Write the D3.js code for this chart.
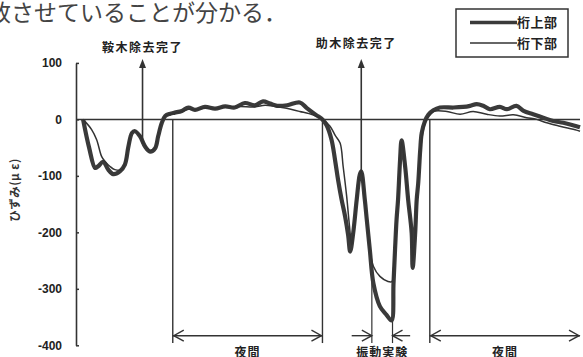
<!DOCTYPE html>
<html>
<head>
<meta charset="utf-8">
<script src="https://cdn.jsdelivr.net/npm/d3@7"></script>
<style>
  body { margin: 0; background: #fff; }
  svg { display: block; font-family: "Noto Sans CJK JP", "Noto Sans", sans-serif; }
</style>
</head>
<body>
<div id="chart"></div>
<script>
// strain record: time (0-100, arbitrary) vs strain (με)
const upperTime = [1.4, 2.6, 3.8, 4.4, 5.4, 6.4, 7.4, 8.7, 9.7, 10.4, 11.1, 11.7, 12.7, 13.7, 14.7, 15.7, 16.3, 17.0, 17.7, 18.7,
  19.6, 21.0, 22.3, 23.6, 25.6, 27.6, 29.6, 31.5, 33.5, 35.5, 37.1, 38.5, 39.9, 41.9, 44.4, 45.8, 47.6, 48.9,
  49.7, 50.7, 51.4, 52.0, 52.7, 53.4, 54.0, 54.4, 55.0, 55.7, 56.3, 56.6, 57.3, 57.7, 58.3, 59.0, 60.3, 61.6, 62.6,
  63.0, 63.3, 63.6, 63.9, 64.3, 64.6, 65.3, 65.9, 66.6, 66.8, 67.3, 67.6, 67.9, 68.3, 68.6, 69.2, 69.9,
  70.9, 72.2, 74.9, 76.8, 78.2, 79.5, 80.8, 82.1, 84.1, 85.5, 87.4, 88.8, 90.7, 92.7, 94.7, 96.7, 99.3, 100];
const upperStrain = [0, -50, -86, -83, -75, -89, -97, -92, -80, -48, -24, -21, -30, -48, -57, -51, -30, -7, 6, 10,
  12, 15, 21, 17, 22, 19, 23, 21, 29, 25, 32, 28, 24, 25, 30, 20, 8, 0,
  -10, -36, -72, -107, -142, -172, -205, -234, -201, -142, -98, -92, -142, -178, -231, -290, -331, -346, -356,
  -290, -231, -178, -142, -72, -37, -83, -142, -201, -263, -201, -142, -113, -54, -24, -4, 8,
  16, 21, 21, 22, 24, 27, 24, 18, 22, 18, 24, 15, 9, 3, -3, -6, -12, -14];

const lowerTime = [1.4, 3.1, 4.1, 5.1, 5.8, 6.7, 7.7, 9.1, 9.7, 10.4, 11.1, 11.7, 12.7, 13.7, 14.7, 15.7, 16.3, 17.0, 17.7, 18.7,
  19.6, 21.0, 22.3, 23.6, 25.6, 27.6, 29.6, 32.5, 35.5, 37.5, 39.5, 41.5, 44.4, 47.0, 48.9,
  50.4, 51.4, 52.4, 53.0, 53.7, 54.2, 54.7, 55.0, 55.7, 56.3, 56.6, 57.3, 57.7, 58.3, 59.0, 60.3, 61.9, 62.7,
  63.0, 63.3, 63.6, 63.9, 64.3, 64.6, 65.3, 65.9, 66.6, 66.8, 67.3, 67.6, 67.9, 68.3, 68.7, 69.2, 69.9,
  70.9, 73.6, 76.2, 78.8, 81.5, 84.1, 86.8, 89.4, 91.4, 93.4, 96.0, 99.3, 100];
const lowerStrain = [0, -18, -36, -66, -75, -83, -89, -89, -78, -46, -23, -20, -29, -46, -55, -50, -28, -5, 6, 9,
  11, 14, 18, 17, 20, 19, 22, 23, 22, 25, 23, 20, 14, 8, 0,
  -12, -28, -42, -83, -136, -183, -222, -205, -142, -98, -92, -142, -178, -231, -260, -278, -287, -287,
  -265, -231, -178, -142, -72, -40, -83, -142, -201, -250, -201, -142, -113, -60, -30, -8, 5,
  14, 14, 9, 14, 9, 6, 8, 3, 0, -6, -12, -19, -21];

const seriesNames = ["桁上部", "桁下部"];
const yTicks = [100, 0, -100, -200, -300, -400];

// removal events (arrows pointing up)
const eventNames = ["鞍木除去完了", "助木除去完了"];
const eventTimes = [13.2, 56.6];
const eventStrain = [-43, -92];

// periods along the bottom
const nightStart = [19.2, 70.2];
const nightEnd = [48.9, 100];
const vibStart = 58.7, vibEnd = 62.8;
const vibStrain = [-255, -350];

const width = 583, height = 357;
const svg = d3.select("#chart").append("svg")
  .attr("width", width).attr("height", height);

const x = d3.scaleLinear().domain([0, 100]).range([76, 580]);
const y = d3.scaleLinear().domain([-400, 100]).range([345.3, 62.9]);

const ink = "#333";

// page text above the figure (cut off by the crop)
svg.append("text")
  .attr("x", -12).attr("y", 21)
  .attr("fill", "#444")
  .style("font-size", "23px")
  .text("致させていることが分かる．");

// y axis
const yAxis = d3.axisLeft(y)
  .tickValues(yTicks)
  .tickSizeInner(-3)
  .tickSizeOuter(0)
  .tickPadding(14)
  .tickFormat(d => d < 0 ? "-" + Math.abs(d) : d);

const gy = svg.append("g")
  .attr("transform", `translate(${x(0)},0)`)
  .call(yAxis);
gy.select(".domain").attr("stroke", ink).attr("stroke-width", 1.6);
gy.selectAll(".tick line").attr("stroke", ink).attr("stroke-width", 1.5);
gy.selectAll(".tick text")
  .attr("fill", "#222")
  .style("font-family", "'Liberation Sans', Arial, sans-serif")
  .style("font-size", "12px")
  .style("font-weight", "bold");

svg.append("text")
  .attr("transform", `translate(19,${y(-125)}) rotate(-90)`)
  .attr("text-anchor", "middle")
  .attr("fill", "#333")
  .style("font-size", "11.5px")
  .style("font-weight", "bold")
  .style("letter-spacing", "0.5px")
  .text("ひずみ(μ ε)");

// zero line
svg.append("line")
  .attr("x1", x(0)).attr("x2", x(100))
  .attr("y1", y(0)).attr("y2", y(0))
  .attr("stroke", ink).attr("stroke-width", 1.5);

// vertical boundaries of the night periods
const bounds = [nightStart[0], nightEnd[0], nightStart[1]];
svg.selectAll(".bound")
  .data(bounds)
  .join("line")
  .attr("class", "bound")
  .attr("x1", d => x(d)).attr("x2", d => x(d))
  .attr("y1", y(0)).attr("y2", y(-396))
  .attr("stroke", ink).attr("stroke-width", 1.4);

// vibration test boundaries
svg.selectAll(".vib")
  .data([vibStart, vibEnd])
  .join("line")
  .attr("class", "vib")
  .attr("x1", d => x(d)).attr("x2", d => x(d))
  .attr("y1", (d, i) => y(vibStrain[i])).attr("y2", y(-396))
  .attr("stroke", ink).attr("stroke-width", 1.2);

// strain curves
const line = d3.line()
  .x(d => x(d[0]))
  .y(d => y(d[1]))
  .curve(d3.curveCatmullRom.alpha(0.5));

svg.append("path")
  .datum(upperTime.map((t, i) => [t, upperStrain[i]]))
  .attr("d", line)
  .attr("fill", "none")
  .attr("stroke", "#3a3a3a")
  .attr("stroke-width", 4.2)
  .attr("stroke-linejoin", "round");

svg.append("path")
  .datum(lowerTime.map((t, i) => [t, lowerStrain[i]]))
  .attr("d", line)
  .attr("fill", "none")
  .attr("stroke", ink)
  .attr("stroke-width", 1.5)
  .attr("stroke-linejoin", "round");

// event arrows
const tip = y(107);
eventTimes.forEach((t, i) => {
  const cx = x(t);
  svg.append("line")
    .attr("x1", cx).attr("x2", cx)
    .attr("y1", y(eventStrain[i])).attr("y2", tip + 6)
    .attr("stroke", ink).attr("stroke-width", 1.6);
  svg.append("path")
    .attr("d", `M${cx},${tip} L${cx - 3.5},${tip + 9} L${cx + 3.5},${tip + 9} Z`)
    .attr("fill", ink);
});
svg.selectAll(".event-label")
  .data(eventNames)
  .join("text")
  .attr("class", "event-label")
  .attr("x", (d, i) => x(eventTimes[i]) + (i === 0 ? 0 : -5))
  .attr("y", (d, i) => i === 0 ? 52 : 48)
  .attr("text-anchor", "middle")
  .attr("fill", "#222")
  .style("font-size", "12px")
  .style("font-weight", "bold")
  .style("letter-spacing", "1.5px")
  .text(d => d);

// period arrows
const ay = y(-383);
function chevron(px, dir) {
  // dir = -1 head pointing left, +1 pointing right
  return `M${px - dir * 10},${ay - 5.5} L${px},${ay} L${px - dir * 10},${ay + 5.5}`;
}
nightStart.forEach((s, i) => {
  svg.append("line")
    .attr("x1", x(s)).attr("x2", x(nightEnd[i]))
    .attr("y1", ay).attr("y2", ay)
    .attr("stroke", ink).attr("stroke-width", 1.4);
  svg.append("path").attr("d", chevron(x(s) + 1, -1))
    .attr("fill", "none").attr("stroke", ink).attr("stroke-width", 1.4);
  svg.append("path").attr("d", chevron(x(nightEnd[i]) - 1, 1))
    .attr("fill", "none").attr("stroke", ink).attr("stroke-width", 1.4);
});
// vibration test: arrows pointing inward
const vibOuter = [54.7, 66.3];
[[vibOuter[0], vibStart, 1], [vibOuter[1], vibEnd, -1]].forEach(([a, b, dir]) => {
  svg.append("line")
    .attr("x1", x(a)).attr("x2", x(b))
    .attr("y1", ay).attr("y2", ay)
    .attr("stroke", ink).attr("stroke-width", 1.4);
  svg.append("path").attr("d", chevron(x(b), dir))
    .attr("fill", "none").attr("stroke", ink).attr("stroke-width", 1.4);
});

const periodLabels = ["夜間", "振動実験", "夜間"];
const periodCenters = [(nightStart[0] + nightEnd[0]) / 2, (vibStart + vibEnd) / 2, (nightStart[1] + nightEnd[1]) / 2];
svg.selectAll(".period-label")
  .data(periodLabels)
  .join("text")
  .attr("class", "period-label")
  .attr("x", (d, i) => x(periodCenters[i]))
  .attr("y", 357)
  .attr("text-anchor", "middle")
  .attr("fill", "#222")
  .style("font-size", "12px")
  .style("font-weight", "bold")
  .style("letter-spacing", "1px")
  .text(d => d);

// legend
const legend = svg.append("g").attr("transform", "translate(456,9)");
legend.append("rect")
  .attr("width", 112).attr("height", 48)
  .attr("fill", "#fff").attr("stroke", ink).attr("stroke-width", 1.5);
const items = legend.selectAll(".legend-item")
  .data(seriesNames)
  .join("g")
  .attr("class", "legend-item")
  .attr("transform", (d, i) => `translate(0,${13.5 + i * 20.5})`);
items.append("line")
  .attr("x1", 14).attr("x2", 61)
  .attr("stroke", (d, i) => i === 0 ? "#3a3a3a" : ink)
  .attr("stroke-width", (d, i) => i === 0 ? 3.5 : 1.5);
items.append("text")
  .attr("x", 61).attr("dy", "0.36em")
  .attr("fill", "#222")
  .style("font-size", "13px")
  .style("font-weight", "bold")
  .style("letter-spacing", "0.5px")
  .text(d => d);
</script>
</body>
</html>
